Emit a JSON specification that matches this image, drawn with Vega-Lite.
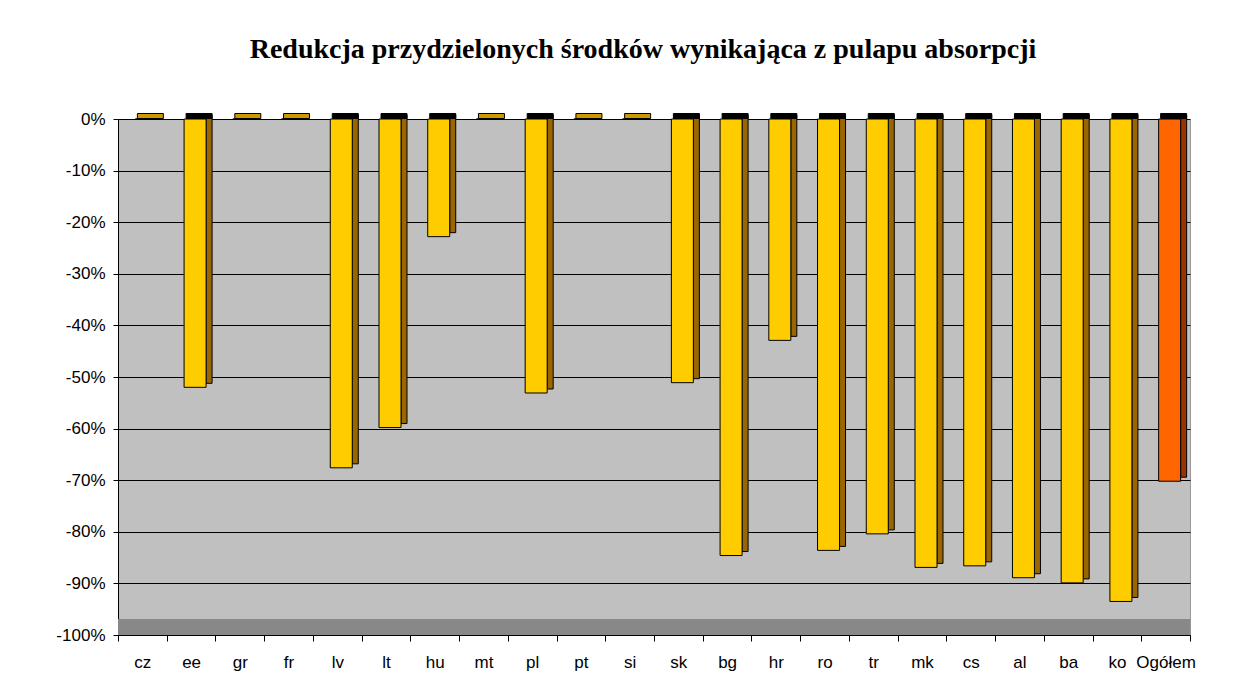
{
  "$schema": "https://vega.github.io/schema/vega-lite/v6.json",
  "autosize": "none",
  "width": 1072,
  "height": 516,
  "padding": {"left": 118, "top": 119, "right": 46, "bottom": 51},
  "background": "white",
  "title": {
    "text": "Redukcja przydzielonych środków wynikająca z pulapu absorpcji",
    "font": "Liberation Serif",
    "fontSize": 28,
    "fontWeight": "bold",
    "color": "#000000",
    "anchor": "middle",
    "dx": -11,
    "offset": 46
  },
  "data": {
    "values": [
      {"kraj": "cz", "wartosc": 0, "typ": "kraj"},
      {"kraj": "ee", "wartosc": -0.52, "typ": "kraj"},
      {"kraj": "gr", "wartosc": 0, "typ": "kraj"},
      {"kraj": "fr", "wartosc": 0, "typ": "kraj"},
      {"kraj": "lv", "wartosc": -0.676, "typ": "kraj"},
      {"kraj": "lt", "wartosc": -0.598, "typ": "kraj"},
      {"kraj": "hu", "wartosc": -0.228, "typ": "kraj"},
      {"kraj": "mt", "wartosc": 0, "typ": "kraj"},
      {"kraj": "pl", "wartosc": -0.531, "typ": "kraj"},
      {"kraj": "pt", "wartosc": 0, "typ": "kraj"},
      {"kraj": "si", "wartosc": 0, "typ": "kraj"},
      {"kraj": "sk", "wartosc": -0.511, "typ": "kraj"},
      {"kraj": "bg", "wartosc": -0.846, "typ": "kraj"},
      {"kraj": "hr", "wartosc": -0.429, "typ": "kraj"},
      {"kraj": "ro", "wartosc": -0.836, "typ": "kraj"},
      {"kraj": "tr", "wartosc": -0.804, "typ": "kraj"},
      {"kraj": "mk", "wartosc": -0.869, "typ": "kraj"},
      {"kraj": "cs", "wartosc": -0.866, "typ": "kraj"},
      {"kraj": "al", "wartosc": -0.889, "typ": "kraj"},
      {"kraj": "ba", "wartosc": -0.899, "typ": "kraj"},
      {"kraj": "ko", "wartosc": -0.935, "typ": "kraj"},
      {"kraj": "Ogółem", "wartosc": -0.702, "typ": "ogółem"}
    ]
  },
  "encoding": {
    "x": {
      "field": "kraj",
      "type": "nominal",
      "sort": null,
      "scale": {"paddingInner": 0, "paddingOuter": 0},
      "axis": {
        "title": null,
        "labelAngle": 0,
        "labelFont": "Liberation Sans",
        "labelFontSize": 17,
        "labelColor": "#000000",
        "labelPadding": 13,
        "domainColor": "#000000",
        "tickColor": "#000000",
        "tickSize": 6,
        "tickBand": "extent",
        "grid": false,
        "zindex": 2
      }
    }
  },
  "layer": [
    {
      "mark": {"type": "rect", "color": "#888888"},
      "encoding": {
        "x": null,
        "y": {"datum": -1, "type": "quantitative"},
        "y2": {"datum": -0.97}
      }
    },
    {
      "mark": {"type": "bar", "width": 6, "xOffset": 18, "yOffset": -4, "stroke": "#000000", "strokeWidth": 1, "opacity": 1},
      "encoding": {
        "y": {
          "field": "wartosc",
          "type": "quantitative",
          "scale": {"domain": [-1, 0], "nice": false},
          "axis": {
            "title": null,
            "values": [0, -0.1, -0.2, -0.3, -0.4, -0.5, -0.6, -0.7, -0.8, -0.9, -1],
            "labelExpr": "round(datum.value*100) + '%'",
            "labelFont": "Liberation Sans",
            "labelFontSize": 17,
            "labelColor": "#000000",
            "labelPadding": 8,
            "domainColor": "#000000",
            "tickColor": "#000000",
            "tickSize": 5,
            "grid": true,
            "gridColor": "#000000",
            "gridOpacity": 1,
            "gridWidth": 1.2
          }
        },
        "color": {
          "field": "typ",
          "type": "nominal",
          "scale": {"domain": ["kraj", "ogółem"], "range": ["#996600", "#993300"]},
          "legend": null
        }
      }
    },
    {
      "mark": {"type": "bar", "width": 22, "xOffset": 4, "stroke": "#000000", "strokeWidth": 1, "opacity": 1},
      "encoding": {
        "y": {"field": "wartosc", "type": "quantitative"},
        "fill": {
          "field": "typ",
          "type": "nominal",
          "scale": {"domain": ["kraj", "ogółem"], "range": ["#FFCC00", "#FF6600"]},
          "legend": null
        }
      }
    },
    {
      "mark": {"type": "tick", "orient": "horizontal", "size": 26, "thickness": 5, "xOffset": 8, "yOffset": -3, "stroke": "#000000", "strokeWidth": 1, "opacity": 1},
      "encoding": {
        "y": {"datum": 0, "type": "quantitative"},
        "color": {
          "condition": {"test": "datum.wartosc < 0", "value": "#000000"},
          "value": "#CC9900"
        }
      }
    }
  ],
  "resolve": {"scale": {"color": "independent"}},
  "config": {
    "view": {"fill": "#C0C0C0", "stroke": "#999999"}
  }
}
